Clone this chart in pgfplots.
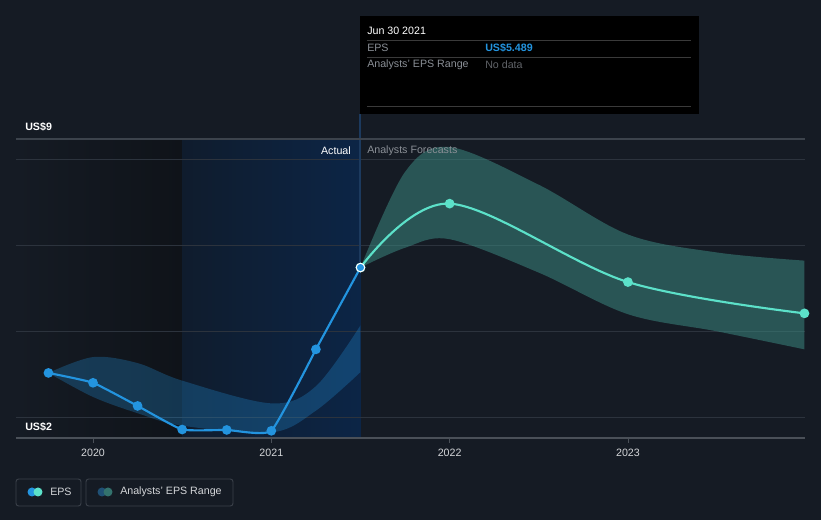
\documentclass[border=0pt]{standalone}
\usepackage{pgfplots}
\pgfplotsset{compat=1.18}
\usepgfplotslibrary{fillbetween}
\usepackage{fontspec}
\setmainfont{Liberation Sans}
\definecolor{bg}{HTML}{151B24}
\definecolor{bgdark}{HTML}{0F1319}
\definecolor{blueL}{HTML}{0F1C2D}
\definecolor{blueR}{HTML}{0C2546}
\definecolor{gridc}{HTML}{2C333D}
\definecolor{topc}{HTML}{3C434C}
\definecolor{axisc}{HTML}{4A5058}
\definecolor{epsblue}{HTML}{2394DF}
\definecolor{teal}{HTML}{5CE1C9}
\definecolor{bandteal}{HTML}{3D8F86}
\definecolor{txt}{HTML}{D4D6D9}
\definecolor{gtxt}{HTML}{8A8F96}
\definecolor{sep}{HTML}{3A3A3A}
\definecolor{legbox}{HTML}{3A4049}
\definecolor{legblue}{HTML}{1F5075}
\definecolor{vline}{HTML}{1C3A5E}
\pagecolor{bg}
\begin{document}
\begin{tikzpicture}
\path (0,0) rectangle (615.75pt,390pt);
\begin{axis}[
  set layers,
  at={(12pt,61.5pt)}, anchor=south west,
  scale only axis, width=591.75pt, height=224.25pt,
  xmin=2019.568, xmax=2023.993, ymin=1.512, ymax=8.488,
  axis x line*=bottom, axis y line*=left,
  x axis line style={axisc, line width=0.8pt},
  y axis line style={draw=none},
  xtick={2020,2021,2022,2023},
  xticklabels={2020,2021,2022,2023},
  tick align=outside, major tick length=3.5pt,
  xtick style={axisc, line width=0.6pt},
  ytick style={draw=none},
  xticklabel style={font=\fontsize{8}{9}\selectfont, text=txt, yshift=-1pt},
  ytick={2,4,6,8}, yticklabels={},
  ymajorgrids, grid style={gridc, line width=0.7pt},
  /pgf/number format/assume math mode=true,
]
\begin{pgfonlayer}{axis background}
  \shade[left color=bg,right color=bgdark] (axis cs:2019.568,1.512) rectangle (axis cs:2020.5,8.488);
  \shade[left color=blueL,right color=blueR] (axis cs:2020.5,1.512) rectangle (axis cs:2021.5,8.488);
\end{pgfonlayer}
% past analyst range
\addplot[name path=pu, draw=none, smooth, tension=0.55] coordinates {
 (2019.75,3.03) (2020,3.40) (2020.25,3.26) (2020.5,2.85) (2021,2.32) (2021.25,2.72) (2021.5,4.14)};
\addplot[name path=pl, draw=none, smooth, tension=0.55] coordinates {
 (2019.75,3.03) (2020,2.47) (2020.25,2.09) (2020.5,1.80) (2021,1.64) (2021.25,2.15) (2021.5,3.05)};
\addplot[fill=epsblue, fill opacity=0.28, draw=none] fill between[of=pu and pl];
% forecast range
\addplot[name path=fu, draw=none, smooth, tension=0.55] coordinates {
 (2021.5,5.489) (2021.75,7.72) (2022,8.30) (2022.5,7.42) (2023,6.26) (2023.5,5.84) (2023.99,5.65)};
\addplot[name path=fl, draw=none, smooth, tension=0.55] coordinates {
 (2021.5,5.489) (2021.75,5.95) (2022,6.15) (2022.5,5.37) (2023,4.40) (2023.5,4.0) (2023.99,3.58)};
\addplot[fill=bandteal, fill opacity=0.5, draw=none] fill between[of=fu and fl];
% forecast line
\addplot[teal, line width=1.6pt, smooth, tension=0.55, mark=*, mark size=2.8pt, mark options={fill=teal, draw=teal}] coordinates {
 (2021.5,5.489) (2022,6.98) (2023,5.15) (2023.99,4.42)};
% EPS actual
\addplot[epsblue, line width=1.6pt, smooth, tension=0.25, mark=*, mark size=2.8pt, mark options={fill=epsblue, draw=epsblue}] coordinates {
 (2019.75,3.03) (2020.0,2.80) (2020.25,2.26) (2020.5,1.71) (2020.75,1.70) (2021.0,1.68) (2021.25,3.58)};
\addplot[epsblue, line width=1.6pt, smooth, tension=0.4] coordinates {(2021.25,3.58) (2021.5,5.489)};
\addplot[only marks, mark=*, mark size=3.2pt, mark options={fill=epsblue, draw=white, line width=0.8pt}] coordinates {(2021.5,5.489)};
\end{axis}
\begin{scope}[x=0.75pt,y=-0.75pt,yshift=390pt]
  \draw[vline, line width=0.8pt] (360,114) -- (360,262);
  \draw[topc, line width=0.8pt] (16,139) -- (805,139);
  \node[anchor=west, text=white, font=\fontsize{8}{9}\selectfont\bfseries, inner sep=0pt] at (25,127) {US\$9};
  \node[anchor=west, text=white, font=\fontsize{8}{9}\selectfont\bfseries, inner sep=0pt] at (25,427) {US\$2};
  \node[anchor=east, text=white, font=\fontsize{8}{9}\selectfont, inner sep=0pt] at (351,151) {Actual};
  \node[anchor=west, text=gtxt, font=\fontsize{8}{9}\selectfont, inner sep=0pt] at (367,151) {Analysts Forecasts};
  % tooltip
  \fill[black] (360,16) rectangle (699,114);
  \node[anchor=west, text=white, font=\fontsize{8}{9}\selectfont, inner sep=0pt] at (367,31) {Jun 30 2021};
  \draw[sep, line width=0.6pt] (367,40) -- (691,40);
  \draw[sep, line width=0.6pt] (367,57) -- (691,57);
  \draw[sep, line width=0.6pt] (367,106) -- (691,106);
  \node[anchor=west, text=gtxt, font=\fontsize{8}{9}\selectfont, inner sep=0pt] at (367,48) {EPS};
  \node[anchor=west, text=epsblue, font=\fontsize{8}{9}\selectfont\bfseries, inner sep=0pt] at (485,48) {US\$5.489};
  \node[anchor=west, text=gtxt, font=\fontsize{8}{9}\selectfont, inner sep=0pt] at (367,65) {Analysts' EPS Range};
  \node[anchor=west, text=gtxt!70!black, font=\fontsize{8}{9}\selectfont, inner sep=0pt] at (485,65) {No data};
  % legend
  \draw[legbox, rounded corners=2pt, line width=0.7pt] (16,479) rectangle (81,506);
  \fill[epsblue] (32,492) circle (4.5);
  \fill[teal] (38,492) circle (4.5);
  \node[anchor=west, text=txt, font=\fontsize{8}{9}\selectfont, inner sep=0pt] at (50,492) {EPS};
  \draw[legbox, rounded corners=2pt, line width=0.7pt] (86,479) rectangle (233,506);
  \fill[legblue] (102,492) circle (4.5);
  \fill[bandteal!75!bg] (108,492) circle (4.5);
  \node[anchor=west, text=txt, font=\fontsize{8}{9}\selectfont, inner sep=0pt] at (120,492) {Analysts' EPS Range};
\end{scope}
\pgfresetboundingbox
\path (0,0) rectangle (615.75pt,390pt);
\end{tikzpicture}
\end{document}
